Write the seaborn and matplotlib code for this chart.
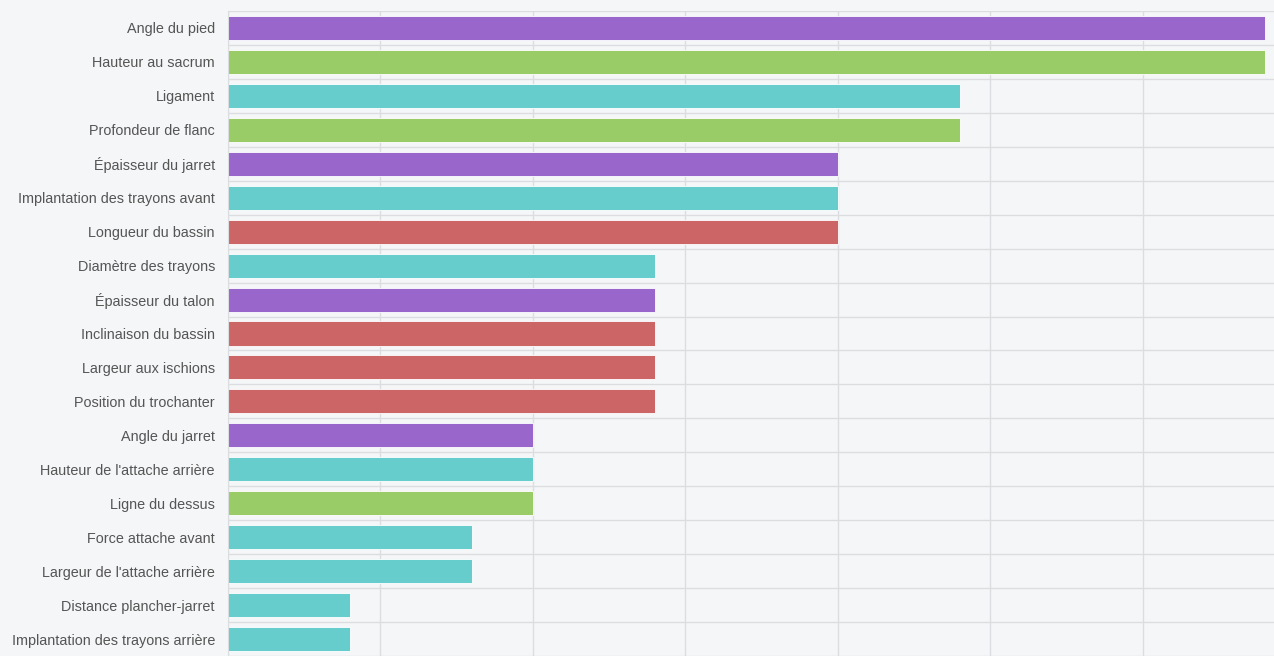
import pandas as pd
import matplotlib
matplotlib.use("Agg")
import matplotlib.pyplot as plt
import seaborn as sns


LABELS = [
    "Angle du pied", "Hauteur au sacrum", "Ligament", "Profondeur de flanc",
    "Épaisseur du jarret", "Implantation des trayons avant", "Longueur du bassin",
    "Diamètre des trayons", "Épaisseur du talon", "Inclinaison du bassin",
    "Largeur aux ischions", "Position du trochanter", "Angle du jarret",
    "Hauteur de l'attache arrière", "Ligne du dessus", "Force attache avant",
    "Largeur de l'attache arrière", "Distance plancher-jarret",
    "Implantation des trayons arrière",
]
VALUES = [6.8, 6.8, 4.8, 4.8, 4.0, 4.0, 4.0, 2.8, 2.8, 2.8, 2.8, 2.8,
          2.0, 2.0, 2.0, 1.6, 1.6, 0.8, 0.8]
GROUPS = ["pied", "gabarit", "mamelle", "gabarit", "pied", "mamelle", "bassin",
          "mamelle", "pied", "bassin", "bassin", "bassin", "pied", "mamelle",
          "gabarit", "mamelle", "mamelle", "mamelle", "mamelle"]
COLORS = {"pied": "#9966CC", "gabarit": "#99CC66",
          "mamelle": "#66CCCC", "bassin": "#CC6666"}

df = pd.DataFrame({"label": LABELS, "value": VALUES, "group": GROUPS})

BG = "#F5F6F8"
GRID = "#DCDDE1"

sns.set_style("white")
plt.rcParams["font.family"] = ["Liberation Sans", "DejaVu Sans"]

fig = plt.figure(figsize=(12.74, 6.56), dpi=100, facecolor=BG)
ax = fig.add_axes([228 / 1274, 0.0, 1 - 228 / 1274, 1 - 11 / 656])
ax.set_facecolor(BG)

sns.barplot(data=df, y="label", x="value", hue="group", palette=COLORS,
            dodge=False, legend=False, width=0.71, saturation=1, ax=ax,
            orient="h")
for p in ax.patches:
    p.set_edgecolor("white")
    p.set_linewidth(0.6)

ax.set_xlim(0, 6.86)
ax.set_ylim(len(LABELS) - 0.5, -0.5)
ax.set_xticks([0, 1, 2, 3, 4, 5, 6])
ax.set_xticklabels([])
ax.tick_params(axis="x", length=0)
ax.set_yticks(range(len(LABELS)))
ax.set_yticks([i - 0.5 for i in range(len(LABELS) + 1)], minor=True)
ax.tick_params(axis="y", which="major", length=0, pad=9.4, labelsize=10.4,
               labelcolor="#555555")
ax.tick_params(axis="y", which="minor", length=7.5, color=GRID, width=1)
ax.grid(axis="x", which="major", color=GRID, linewidth=1)
ax.grid(axis="y", which="minor", color=GRID, linewidth=1)
ax.set_axisbelow(True)
ax.set_xlabel("")
ax.set_ylabel("")
for side in ["top", "right", "bottom"]:
    ax.spines[side].set_visible(False)
ax.spines["left"].set_color(GRID)

fig.savefig("out.png", dpi=100, facecolor=BG)
